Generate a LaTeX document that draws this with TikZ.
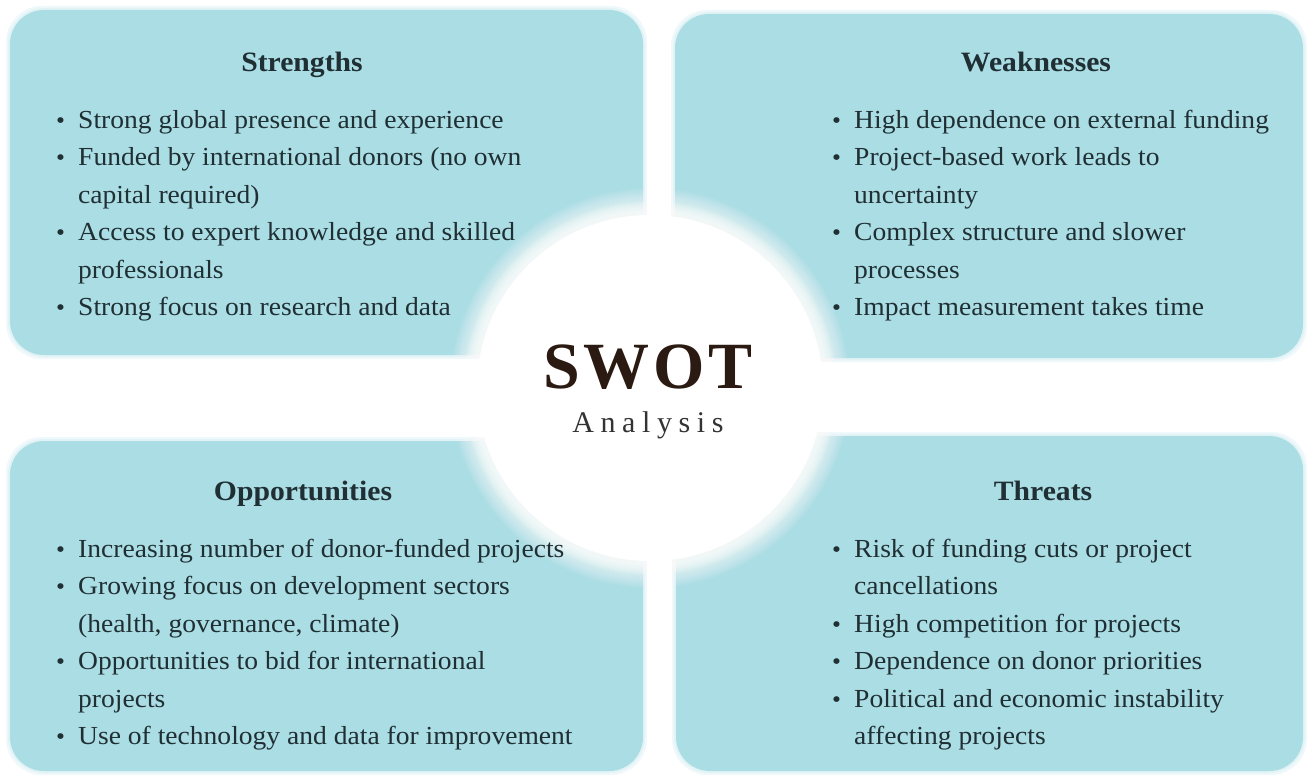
\documentclass[tikz,border=0pt]{standalone}
\usepackage{fontspec}
\setmainfont[FakeStretch=1.06]{Liberation Serif}
\newfontfamily\swotfont[LetterSpace=6]{Liberation Serif}
\newfontfamily\subfont[LetterSpace=22]{Liberation Serif}
\definecolor{boxteal}{HTML}{ABDDE4}
\definecolor{ink}{HTML}{1F2F33}
\definecolor{swotbrown}{HTML}{2B1A12}
\definecolor{subgray}{HTML}{333333}
% bullet marker and hanging indent for the lists
\newcommand{\itm}{\makebox[22pt][l]{\fontsize{24}{24}\selectfont\textbullet}}
\newcommand{\cnt}{\hspace*{22pt}}
\begin{document}
\begin{tikzpicture}[x=1pt,y=-1pt,
  quad/.style={fill=boxteal, draw=none, rounded corners=34pt},
  halo/.style={fill=boxteal, draw=none, rounded corners=36pt, opacity=0.18},
  head/.style={font=\fontsize{28}{32}\selectfont\bfseries, text=ink, anchor=base, inner sep=0pt},
  items/.style={font=\fontsize{26}{37.5}\selectfont, text=ink, align=left, anchor=base west, inner sep=0pt}]
\useasboundingbox (0,0) rectangle (1309,778);
\fill[white] (0,0) rectangle (1309,778);

% soft edges of the quadrant panels
\foreach \a/\b/\c/\d in {10/10/643/355, 675/14/1303/358, 10/441/643/771, 676/436/1303/771}{
  \fill[halo] (\a-4,\b-4) rectangle (\c+4,\d+4);
  \fill[halo] (\a-2,\b-2) rectangle (\c+2,\d+2);
}
% quadrant panels
\node[quad, minimum width=633pt, minimum height=345pt] (S) at (326.5,182.5) {};
\node[quad, minimum width=628pt, minimum height=344pt] (W) at (989,186) {};
\node[quad, minimum width=633pt, minimum height=330pt] (O) at (326.5,606) {};
\node[quad, minimum width=627pt, minimum height=335pt] (T) at (989.5,603.5) {};

% central disc with a soft white rim
\foreach \r in {200,199,...,188}{
  \fill[white, opacity=0.05] (650,388) circle (\r pt);
}
\foreach \r in {187,186,...,174}{
  \fill[white, opacity=0.12] (650,388) circle (\r pt);
}
\node[circle, fill=white, minimum size=346pt, inner sep=0pt] (C) at (650,388) {};

% headings
\node[head] (Sh) at (302,72) {Strengths};
\node[head] (Wh) at (1036,72) {Weaknesses};
\node[head] (Oh) at (303,500) {Opportunities};
\node[head] (Th) at (1043,500) {Threats};

% lists (anchored at the baseline of their last line)
\node[items] (Sl) at (56,315.5) {%
\itm Strong global presence and experience\\
\itm Funded by international donors (no own\\
\cnt capital required)\\
\itm Access to expert knowledge and skilled\\
\cnt professionals\\
\itm Strong focus on research and data};
\node[items] (Wl) at (832,315.5) {%
\itm High dependence on external funding\\
\itm Project-based work leads to\\
\cnt uncertainty\\
\itm Complex structure and slower\\
\cnt processes\\
\itm Impact measurement takes time};
\node[items] (Ol) at (56,744.5) {%
\itm Increasing number of donor-funded projects\\
\itm Growing focus on development sectors\\
\cnt (health, governance, climate)\\
\itm Opportunities to bid for international\\
\cnt projects\\
\itm Use of technology and data for improvement};
\node[items] (Tl) at (832,744.5) {%
\itm Risk of funding cuts or project\\
\cnt cancellations\\
\itm High competition for projects\\
\itm Dependence on donor priorities\\
\itm Political and economic instability\\
\cnt affecting projects};

% centre title
\node[font=\swotfont\fontsize{66}{70}\selectfont\bfseries, text=swotbrown, anchor=base, inner sep=0pt] (T1) at (648,388) {SWOT};
\node[font=\subfont\fontsize{30}{34}\selectfont, text=subgray, anchor=base, inner sep=0pt] (T2) at (648,432) {Analysis};
\end{tikzpicture}
\end{document}
